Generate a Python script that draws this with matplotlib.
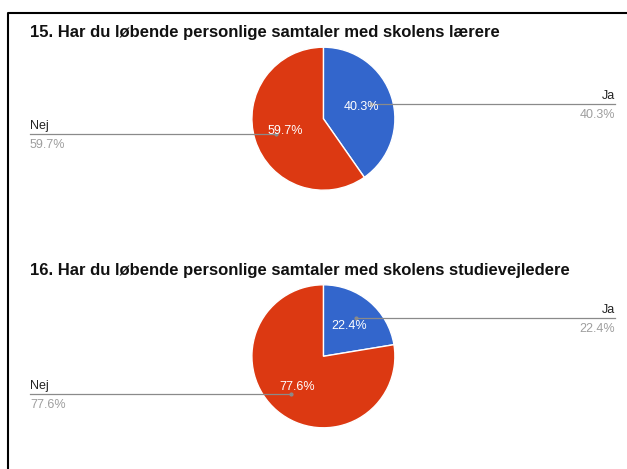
import numpy as np
from matplotlib import pyplot as plt

# survey answers (percent)
labels = ["Ja", "Nej"]
titles = ["15. Har du løbende personlige samtaler med skolens lærere",
          "16. Har du løbende personlige samtaler med skolens studievejledere"]
q15_pct = [40.3, 59.7]
q16_pct = [22.4, 77.6]
colors = ["#3366cc", "#dc3912"]

plt.rcParams['font.family'] = ['Liberation Sans', 'DejaVu Sans']

W, H = 627, 469
fig = plt.figure(figsize=(W / 100, H / 100), dpi=100)
ax = fig.add_axes([0, 0, 1, 1])

cx, r = 323.4, 71.5
left_x, right_x = 30, 615
centers_y = [H - 118.7, H - 356.3]

for vals, title, cy in zip([q15_pct, q16_pct], titles, centers_y):
    wedges, _, autotexts = ax.pie(vals, colors=colors, startangle=90, counterclock=False,
                                  center=(cx, cy), radius=r, autopct='%.1f%%', pctdistance=0.56,
                                  wedgeprops=dict(edgecolor='white', linewidth=1),
                                  textprops=dict(color='white', fontsize=9))
    for t in autotexts:
        t.set_zorder(5)
    for w, lab, v in zip(wedges, labels, vals):
        mid = np.deg2rad((w.theta1 + w.theta2) / 2)
        ex = cx + 0.7 * r * np.cos(mid)
        ey = cy + 0.7 * r * np.sin(mid)
        if np.cos(mid) > 0:
            xs, xt, ha = [ex, right_x], right_x, 'right'
        else:
            xs, xt, ha = [left_x, ex], left_x, 'left'
        ax.plot(xs, [ey, ey], color='#8a8a8a', lw=0.9, zorder=4)
        ax.plot([ex], [ey], 'o', color='#8a8a8a', ms=2, zorder=4)
        ax.text(xt, ey + 5, lab, ha=ha, va='baseline', color='#222222', fontsize=9)
        ax.text(xt, ey - 14, f"{v}%", ha=ha, va='baseline', color='#9e9e9e', fontsize=9)
    ax.text(left_x, cy + 81.7, title, ha='left', va='baseline', color='#111111',
            fontsize=12, fontweight='bold')

# page frame
ax.plot([8, 8, W], [0, H - 13, H - 13], color='black', lw=1.5, solid_capstyle='butt')

ax.set_xlim(0, W)
ax.set_ylim(0, H)
ax.set_aspect('auto')
ax.axis('off')

fig.savefig('out.png', dpi=100)
